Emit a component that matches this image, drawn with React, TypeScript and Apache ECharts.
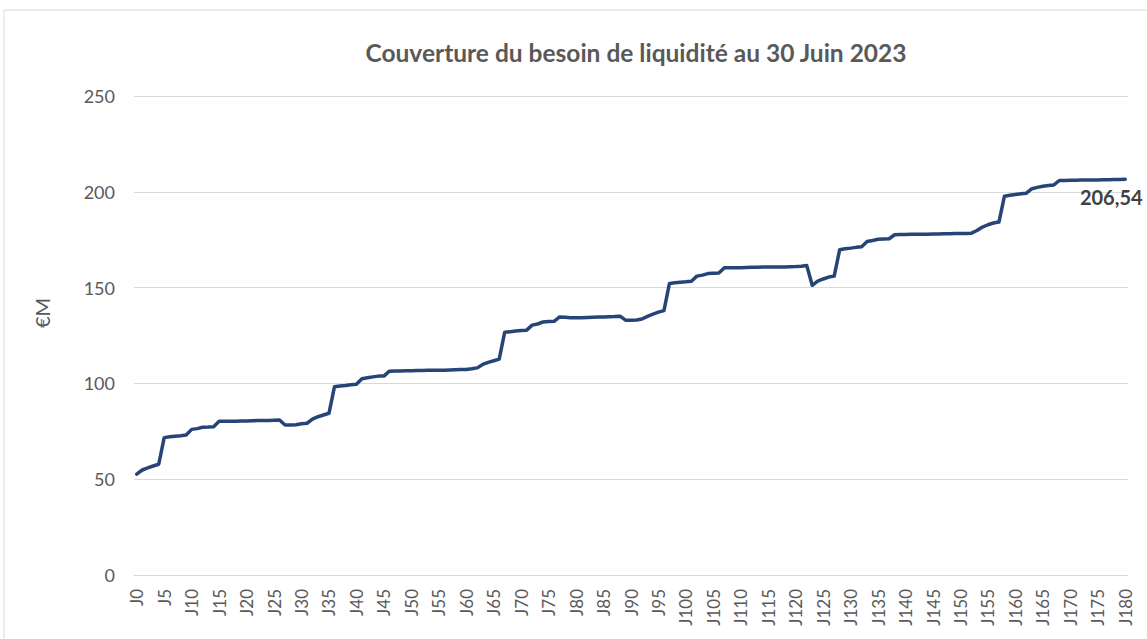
import React, { useEffect, useRef } from "react";
import * as echarts from "echarts";

const TITLE = "Couverture du besoin de liquidité au 30 Juin 2023";
const Y_NAME = "€M";
const Y_TICKS = [0, 50, 100, 150, 200, 250];

const categories: string[] = Array.from({ length: 181 }, (_, i) => `J${i}`);

const values: number[] = [
  52.6, 54.8, 55.9, 56.9, 57.8,
  71.7, 72.1, 72.4, 72.7, 73.1,
  76.0, 76.4, 77.1, 77.2, 77.4,
  80.2, 80.2, 80.3, 80.3, 80.4,
  80.4, 80.5, 80.6, 80.6, 80.7,
  80.8, 80.9, 78.3, 78.3, 78.4,
  78.9, 79.2, 81.4, 82.6, 83.5,
  84.4, 98.2, 98.6, 98.9, 99.3,
  99.6, 102.4, 102.9, 103.4, 103.8,
  103.8, 106.4, 106.5, 106.5, 106.6,
  106.6, 106.7, 106.7, 106.8, 106.8,
  106.9, 106.9, 107.0, 107.1, 107.2,
  107.3, 107.6, 108.1, 109.9, 111.0,
  111.8, 112.7, 126.7, 127.0, 127.3,
  127.6, 127.8, 130.4, 131.0, 132.1,
  132.3, 132.4, 134.7, 134.5, 134.3,
  134.2, 134.3, 134.4, 134.5, 134.6,
  134.7, 134.8, 134.9, 135.1, 133.0,
  133.0, 133.1, 133.6, 135.0, 136.2,
  137.2, 138.0, 152.2, 152.5, 152.8,
  153.0, 153.3, 156.0, 156.5, 157.3,
  157.5, 157.6, 160.4, 160.4, 160.4,
  160.4, 160.5, 160.6, 160.6, 160.7,
  160.7, 160.7, 160.8, 160.8, 160.9,
  161.0, 161.2, 161.5, 151.2, 153.4,
  154.5, 155.5, 156.0, 169.8, 170.3,
  170.6, 171.0, 171.3, 174.1, 174.6,
  175.2, 175.4, 175.5, 177.6, 177.7,
  177.7, 177.8, 177.8, 177.9, 177.9,
  178.0, 178.0, 178.1, 178.1, 178.2,
  178.2, 178.3, 178.4, 179.8, 181.6,
  182.8, 183.7, 184.2, 197.7, 198.2,
  198.6, 199.0, 199.3, 201.6, 202.3,
  202.9, 203.3, 203.6, 205.9, 205.9,
  206.0, 206.0, 206.1, 206.1, 206.2,
  206.2, 206.3, 206.3, 206.4, 206.4,
  206.54,
];

const FONT = "Lato, 'Open Sans', sans-serif";
const GRAY = "#595959";

export default function App() {
  const ref = useRef<HTMLDivElement>(null);

  useEffect(() => {
    if (!ref.current) return;
    const chart = echarts.init(ref.current, null, { renderer: "svg" });
    const last = values.length - 1;
    chart.setOption({
      animation: false,
      backgroundColor: "#ffffff",
      title: {
        text: TITLE,
        left: 631,
        top: 35,
        textAlign: "center",
        textStyle: {
          fontFamily: FONT,
          fontWeight: "bold",
          fontSize: 24.5,
          color: GRAY,
        },
      },
      graphic: [
        {
          type: "rect",
          shape: { x: 4, y: 10, width: 1170, height: 700 },
          style: { fill: "none", stroke: "#d9d9d9", lineWidth: 1 },
          silent: true,
          z: -1,
        },
        {
          type: "text",
          x: 42,
          y: 313,
          rotation: Math.PI / 2,
          style: {
            text: Y_NAME,
            fontFamily: FONT,
            fontSize: 20,
            fill: GRAY,
            align: "center",
            verticalAlign: "middle",
          },
        },
      ],
      grid: { left: 134, right: 19, top: 96, bottom: 64, containLabel: false },
      xAxis: {
        type: "category",
        data: categories,
        boundaryGap: true,
        axisLine: { show: true, lineStyle: { color: "#d9d9d9", width: 1 } },
        axisTick: { show: false },
        axisLabel: {
          interval: 4,
          rotate: 90,
          margin: 14,
          fontFamily: FONT,
          fontSize: 17,
          color: GRAY,
        },
      },
      yAxis: {
        type: "value",
        min: Y_TICKS[0],
        max: Y_TICKS[Y_TICKS.length - 1],
        interval: 50,
        axisLine: { show: false },
        axisTick: { show: false },
        axisLabel: {
          margin: 19,
          fontFamily: FONT,
          fontSize: 18,
          color: GRAY,
        },
        splitLine: { lineStyle: { color: "#d9d9d9", width: 1 } },
      },
      series: [
        {
          type: "line",
          data: values,
          showSymbol: false,
          symbol: "none",
          lineStyle: { color: "#264478", width: 3.5, join: "round", cap: "round" },
          itemStyle: { color: "#264478" },
          markPoint: {
            symbol: "circle",
            symbolSize: 1,
            itemStyle: { color: "rgba(0,0,0,0)" },
            data: [
              {
                coord: [last, values[last]],
                value: values[last],
                label: {
                  show: true,
                  position: "bottom",
                  distance: 7,
                  offset: [-14, 0],
                  formatter: (p: any) => Number(p.value).toFixed(2).replace(".", ","),
                  fontFamily: FONT,
                  fontWeight: "bold",
                  fontSize: 20,
                  color: "#404040",
                },
              },
            ],
          },
        },
      ],
    });
    return () => chart.dispose();
  }, []);

  return (
    <div
      ref={ref}
      style={{ position: "fixed", left: 0, top: 0, width: 1147, height: 639 }}
    />
  );
}
